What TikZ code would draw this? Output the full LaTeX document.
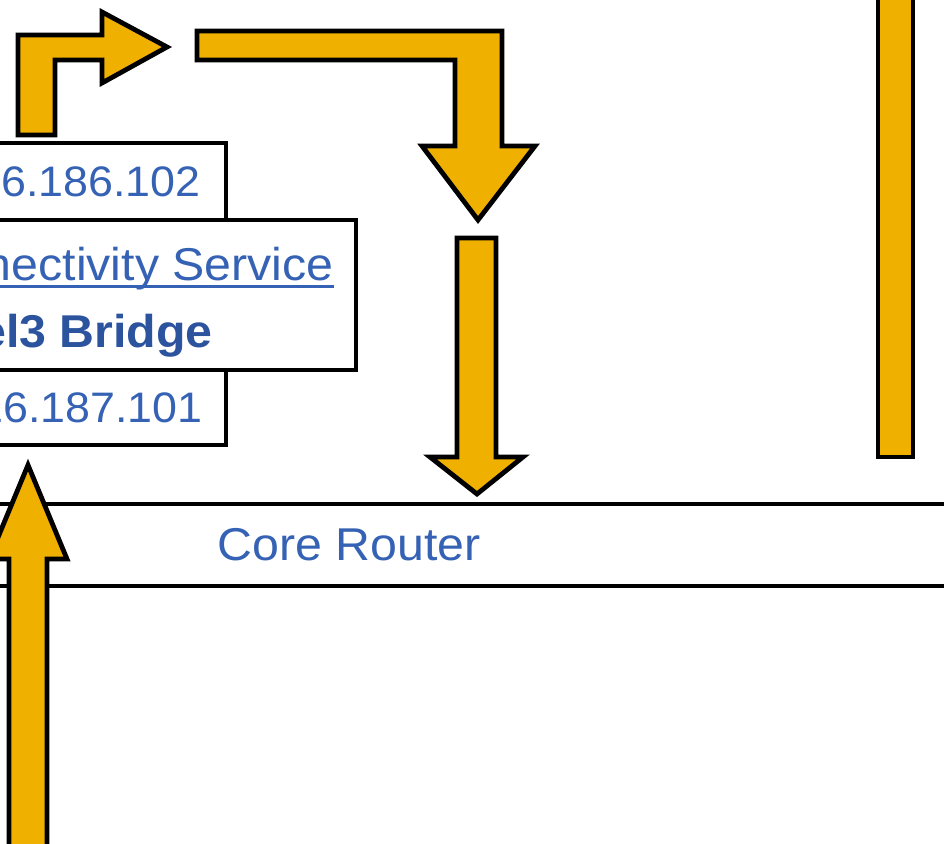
\documentclass[tikz,border=0pt]{standalone}
\usepackage{fontspec}
\setmainfont{Liberation Sans}[FakeStretch=1.05]
\definecolor{arrowyellow}{HTML}{F0B000}
\definecolor{textblue}{HTML}{3562B4}
\definecolor{boldblue}{HTML}{2C539E}
\tikzset{
  blockarrow/.style={fill=arrowyellow, draw=black, line width=3.6pt, line join=miter},
  boxline/.style={fill=white, draw=black, line width=3.6pt},
  iptext/.style={text=textblue, font=\fontsize{32pt}{36pt}\selectfont, inner sep=0pt},
  bigtext/.style={text=textblue, font=\fontsize{34.5pt}{40pt}\selectfont, inner sep=0pt},
  boldtext/.style={text=boldblue, font=\fontsize{34.5pt}{40pt}\selectfont\bfseries, inner sep=0pt}
}
\begin{document}
\begin{tikzpicture}[x=0.75pt, y=-0.75pt]
\useasboundingbox (0,0) rectangle (944,843);
\fill[white] (0,0) rectangle (944,843);

% bridge boxes
\draw[boxline] (-30,143) rectangle (226,220);
\draw[boxline] (-30,370) rectangle (226,445);
\draw[boxline] (-30,220) rectangle (356,370);

\node[iptext, anchor=base east] (ipone) at (201,196) {16.186.102};
\node[bigtext, anchor=base east] (conn) at (334,280) {nectivity Service};
\draw[textblue, line width=2.2pt] ([yshift=-4.6pt]conn.base west) -- ([yshift=-4.6pt]conn.base east);
\node[boldtext, anchor=base east] (bridge) at (213,347) {el3 Bridge};
\node[iptext, anchor=base east] (iptwo) at (203,422) {16.187.101};

% core router
\draw[boxline] (-30,504) rectangle (974,586);
\node[bigtext, anchor=base] (core) at (349,560) {Core Router};

% top-left bent arrow
\draw[blockarrow] (18,135) -- (18,35) -- (102,35) -- (102,12) -- (167,47)
  -- (102,83) -- (102,60) -- (55,60) -- (55,135) -- cycle;

% big bent arrow
\draw[blockarrow] (197,31) -- (502,31) -- (502,146) -- (535,146) -- (478,220)
  -- (422,146) -- (455,146) -- (455,60) -- (197,60) -- cycle;

% middle down arrow
\draw[blockarrow] (457,238) -- (496,238) -- (496,457) -- (523,457) -- (477,494)
  -- (430,457) -- (457,457) -- cycle;

% right bar
\draw[blockarrow] (878,-20) -- (913,-20) -- (913,457) -- (878,457) -- cycle;

% bottom-left up arrow
\draw[blockarrow] (9,870) -- (9,559) -- (-11,559) -- (28,465) -- (67,559)
  -- (47,559) -- (47,870) -- cycle;
\end{tikzpicture}
\end{document}
